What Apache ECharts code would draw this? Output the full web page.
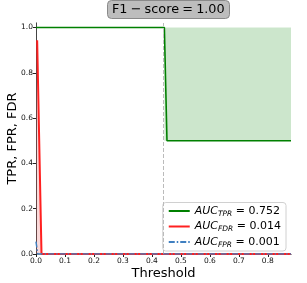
<!DOCTYPE html>
<html><head><meta charset="utf-8">
<script src="https://cdn.jsdelivr.net/npm/echarts@6/dist/echarts.min.js"></script>
<style>html,body{margin:0;padding:0;background:#fff}#c{width:307px;height:283px}</style>
</head><body><div id="c"></div>
<script>
var xTicks = [0, 0.1, 0.2, 0.3, 0.4, 0.5, 0.6, 0.7, 0.8];
var yTicks = [0, 0.2, 0.4, 0.6, 0.8, 1.0];
var tprData = [[0, 1.0], [0.443, 1.0], [0.452, 0.5], [0.88, 0.5]];
var fdrData = [[0.004, 0.944], [0.019, 0], [0.88, 0]];
var fdrFill = [[0, 0.944], [0.004, 0.944], [0.019, 0]];
var fprData = [[0, 0.055], [0.006, 0], [0.88, 0]];
var threshold = 0.443;
var tprFill = [[0.443, 0.5], [0.88, 1.0]];
var aucTPR = '0.752', aucFDR = '0.014', aucFPR = '0.001';
var f1Title = 'F1\u2005\u2212\u2005score\u2005=\u20051.00';

var chart = echarts.init(document.getElementById('c'));
var ff = 'DejaVu Sans';
var rich = {
  i: {fontFamily: ff, fontStyle: 'italic', fontSize: 11, color: '#000'},
  s: {fontFamily: ff, fontStyle: 'italic', fontSize: 7.5, color: '#000', padding: [6, 0, 0, 0]},
  n: {fontFamily: ff, fontSize: 11, color: '#000'}
};
var names = {
  TPR: '{i|AUC}{s|TPR}{n| = ' + aucTPR + '}',
  FDR: '{i|AUC}{s|FDR}{n| = ' + aucFDR + '}',
  FPR: '{i|AUC}{s|FPR}{n| = ' + aucFPR + '}'
};
chart.setOption({
  animation: false,
  title: {
    text: f1Title, left: 107, top: 0,
    padding: [3, 5, 3, 5],
    backgroundColor: '#bdbdbd', borderColor: '#8a8a8a', borderWidth: 1, borderRadius: 4,
    textStyle: {fontFamily: ff, fontSize: 12.8, fontWeight: 'normal', color: '#000'}
  },
  grid: {left: 36, right: 16, top: 23, bottom: 29, outerBoundsMode: 'none', containLabel: false},
  legend: {
    orient: 'vertical', right: 21, bottom: 32,
    backgroundColor: '#fff', borderColor: '#d0d0d0', borderWidth: 1, borderRadius: 3,
    padding: [3, 5, 2, 5], itemGap: 3, itemWidth: 21, itemHeight: 12,
    itemStyle: {opacity: 0, borderWidth: 0},
    data: ['TPR', 'FDR', 'FPR'],
    formatter: function (n) { return names[n]; },
    textStyle: {rich: rich, fontFamily: ff, fontSize: 11}
  },
  xAxis: [{
    type: 'value', min: 0, max: 0.88, position: 'bottom',
    name: 'Threshold', nameLocation: 'middle', nameGap: 13, nameMoveOverlap: false,
    nameTextStyle: {fontFamily: ff, fontSize: 13, color: '#000'},
    axisLine: {show: true, lineStyle: {color: '#222', width: 1}},
    axisTick: {show: true, length: 3, customValues: xTicks, lineStyle: {color: '#222'}},
    axisLabel: {customValues: xTicks, fontFamily: ff, fontSize: 7.5, color: '#111', margin: 3,
      formatter: function (v) { return v.toFixed(1); }},
    splitLine: {show: false}
  }, {
    type: 'value', min: 0, max: 0.88, position: 'top',
    axisLine: {show: true, lineStyle: {color: '#999', width: 1}},
    axisTick: {show: false}, axisLabel: {show: false}, splitLine: {show: false}
  }],
  yAxis: [{
    type: 'value', min: 0, max: 1.02, position: 'left',
    name: 'TPR, FPR, FDR', nameLocation: 'middle', nameGap: 17, nameRotate: 90, nameMoveOverlap: false,
    nameTextStyle: {fontFamily: ff, fontSize: 13, color: '#000'},
    axisLine: {show: true, lineStyle: {color: '#999', width: 1}},
    axisTick: {show: true, length: 3, customValues: yTicks, lineStyle: {color: '#222'}},
    axisLabel: {customValues: yTicks, fontFamily: ff, fontSize: 7.5, color: '#111', margin: 3,
      formatter: function (v) { return v.toFixed(1); }},
    splitLine: {show: false}
  }, {
    type: 'value', min: 0, max: 1.02, position: 'right',
    axisLine: {show: true, lineStyle: {color: '#444', width: 1}},
    axisTick: {show: false}, axisLabel: {show: false}, splitLine: {show: false}
  }],
  series: [{
    name: 'FDRfill', type: 'line', data: fdrFill, symbol: 'none', silent: true,
    lineStyle: {width: 0}, areaStyle: {color: 'rgba(230,80,80,0.3)'}, z: 1
  }, {
    name: 'TPR', type: 'line', data: tprData, symbol: 'none',
    lineStyle: {color: '#008000', width: 1.6}, itemStyle: {color: '#008000'}, z: 3,
    markArea: {silent: true, itemStyle: {color: 'rgba(0,128,0,0.2)'},
      data: [[{coord: tprFill[0]}, {coord: tprFill[1]}]]},
    markLine: {silent: true, symbol: 'none', label: {show: false},
      lineStyle: {color: '#bbb', type: [4, 2], width: 1},
      data: [{xAxis: threshold}]}
  }, {
    name: 'FDR', type: 'line', data: fdrData, symbol: 'none',
    lineStyle: {color: '#ff2020', width: 2}, itemStyle: {color: '#ff2020'}, z: 4
  }, {
    name: 'FPR', type: 'line', data: fprData, symbol: 'none',
    lineStyle: {color: '#3f7fc0', width: 1.5, type: [6, 2, 1.5, 2]}, itemStyle: {color: '#3f7fc0'}, z: 5
  }]
});
</script></body></html>
